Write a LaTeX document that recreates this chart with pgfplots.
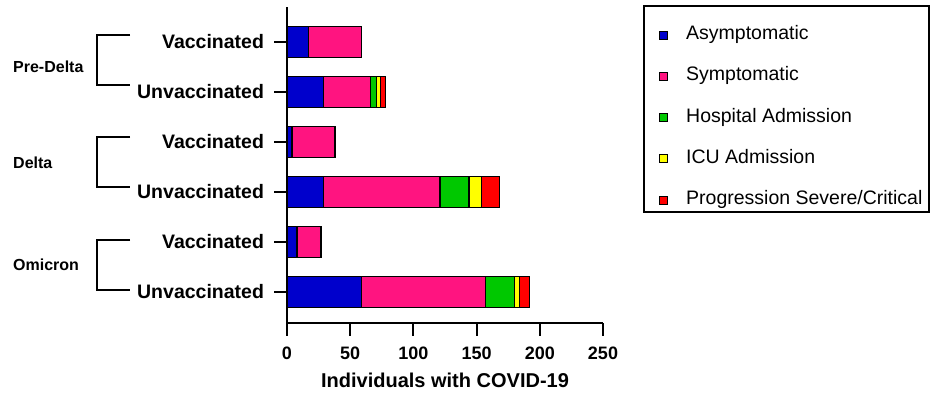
\documentclass[border=0pt]{standalone}
\usepackage{fontspec}
\setmainfont{Liberation Sans}
\usepackage{pgfplots}
\pgfplotsset{compat=1.18}
\definecolor{cAsym}{RGB}{0,0,204}
\definecolor{cSym}{RGB}{255,20,128}
\definecolor{cHosp}{RGB}{0,200,0}
\definecolor{cICU}{RGB}{255,255,0}
\definecolor{cSev}{RGB}{255,0,0}
\begin{document}
\begin{tikzpicture}[x=1pt,y=1pt]
\path (0,0) rectangle (932,-392);
\draw[line width=1.5pt] (644,-6) rectangle (929,-212);
\begin{axis}[
  at={(287pt,-323.3pt)}, anchor=south west,
  scale only axis, width=316pt, height=316.3pt,
  xbar stacked, bar width=31pt,
  xmin=0, xmax=250, ymin=-0.626, ymax=5.7,
  axis lines*=left,
  axis line style={line width=2pt,-},
  xtick={0,50,...,250}, ytick={0,...,5},
  yticklabels={Unvaccinated,Vaccinated,Unvaccinated,Vaccinated,Unvaccinated,Vaccinated},
  tick align=outside, major tick length=12.5pt,
  tick style={line width=2pt,black},
  /pgf/number format/assume math mode=true,
  xticklabel style={font=\fontsize{18}{20}\selectfont\bfseries, yshift=-8pt},
  yticklabel style={font=\fontsize{19.5}{22}\selectfont\bfseries, xshift=-7pt},
  xlabel={Individuals with COVID-19},
  xlabel style={font=\fontsize{20}{22}\selectfont\bfseries, at={(axis description cs:0.5,-0.179)}, anchor=center},
  legend cell align=left,
  legend style={at={(1.1772,0.9383)}, anchor=north west, draw=none, fill=none,
    font=\fontsize{19.5}{22}\selectfont,
    inner xsep=0pt, inner ysep=0pt, column sep=18pt, row sep=24.25pt,
    nodes={inner sep=0pt, text height=13pt, text depth=4pt}},
  legend image code/.code={\draw[#1, draw=black, line width=1pt] (0pt,-4pt) rectangle (8pt,4pt);},
  every axis plot/.append style={draw=black, line width=1.3pt},
]
\addplot[fill=cAsym] coordinates {(59,0) (8,1) (29,2) (4,3) (29,4) (17,5)};
\addplot[fill=cSym] coordinates {(98,0) (19,1) (92,2) (34,3) (37,4) (42,5)};
\addplot[fill=cHosp] coordinates {(23,0) (0,1) (23,2) (0,3) (5,4) (0,5)};
\addplot[fill=cICU] coordinates {(4,0) (0,1) (10,2) (0,3) (3,4) (0,5)};
\addplot[fill=cSev] coordinates {(8,0) (0,1) (14,2) (0,3) (4,4) (0,5)};
\legend{Asymptomatic,Symptomatic,Hospital Admission,ICU Admission,Progression Severe/Critical}
\end{axis}
\begin{scope}[line width=2pt]
\draw (130,-35) -- (97,-35) -- (97,-85) -- (130,-85);
\draw (130,-136.5) -- (97,-136.5) -- (97,-186.5) -- (130,-186.5);
\draw (130,-239.5) -- (97,-239.5) -- (97,-290) -- (130,-290);
\end{scope}
\begin{scope}[font=\fontsize{16}{18}\selectfont\bfseries]
\node[anchor=west, inner sep=0pt] at (13,-67) {Pre-Delta};
\node[anchor=west, inner sep=0pt] at (13,-163) {Delta};
\node[anchor=west, inner sep=0pt] at (13,-265) {Omicron};
\end{scope}
\end{tikzpicture}
\end{document}
